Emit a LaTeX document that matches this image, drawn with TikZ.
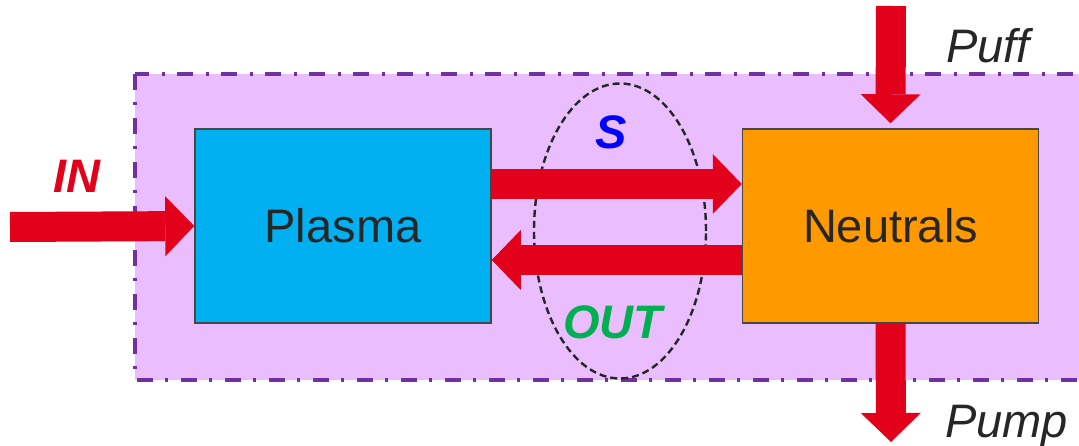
\documentclass[tikz,border=0pt]{standalone}
\usepackage{fontspec}
\setmainfont{Liberation Sans}
\usetikzlibrary{arrows.meta,shapes.geometric}
\definecolor{ared}{HTML}{E3001B}
\definecolor{pblue}{HTML}{00B0F0}
\definecolor{norange}{HTML}{FF9900}
\definecolor{bgfill}{HTML}{E9BDFE}
\definecolor{bgline}{HTML}{7030A0}
\definecolor{tgray}{HTML}{262626}
\definecolor{sgreen}{HTML}{00B050}
\definecolor{sblue}{HTML}{0000FF}
\tikzset{
  big/.style={font=\fontsize{47}{56}\selectfont},
  box/.style={draw=tgray!85, line width=1.5pt, minimum width=296pt, minimum height=194pt, inner sep=0pt, text=tgray, big},
  barrow/.style={ared, line width=30pt, -{Triangle[width=60pt,length=29pt,line width=0pt]}},
  lbl/.style={big, font=\fontsize{47}{56}\selectfont\bfseries\itshape, inner sep=0pt},
  ilbl/.style={font=\fontsize{47}{56}\selectfont\itshape, text=tgray, inner sep=0pt},
}
\begin{document}
\begin{tikzpicture}[x=1pt,y=-1pt]
\useasboundingbox (0,0) rectangle (1079,446);
\path[fill=bgfill, draw=bgline, line width=4pt, dash pattern=on 16pt off 12pt on 3pt off 13pt] (135,74) rectangle (1090,380);
\node[box, fill=pblue] (plasma) at (343,226) {Plasma};
\node[box, fill=norange] (neutrals) at (890.5,226) {Neutrals};
\node[draw=tgray, line width=2.4pt, dash pattern=on 7pt off 4pt, ellipse, minimum width=172pt, minimum height=295pt, inner sep=0pt] (surf) at (620,231) {};
\coordinate (instart) at (10,227);
\coordinate (puffstart) at (891,6);
\coordinate (pumpend) at (891,442);
\draw[barrow] (instart) -- (plasma.west);
\draw[barrow] ([yshift=42pt]plasma.east) -- ([yshift=42pt]neutrals.west);
\draw[barrow] ([yshift=-34pt]neutrals.west) -- ([yshift=-34pt]plasma.east);
\draw[barrow] (puffstart) -- ([yshift=5pt]neutrals.north);
\draw[barrow] (neutrals.south) -- (pumpend);
\node[lbl, text=ared, anchor=base] (in) at (77,193) {IN};
\node[lbl, text=sblue, anchor=base] (s) at (611,149) {S};
\node[lbl, text=sgreen, anchor=base] (out) at (613,338) {OUT};
\node[ilbl, anchor=base west] (puff) at (946,63) {Puff};
\node[ilbl, anchor=base west] (pump) at (945,437) {Pump};
\end{tikzpicture}
\end{document}
